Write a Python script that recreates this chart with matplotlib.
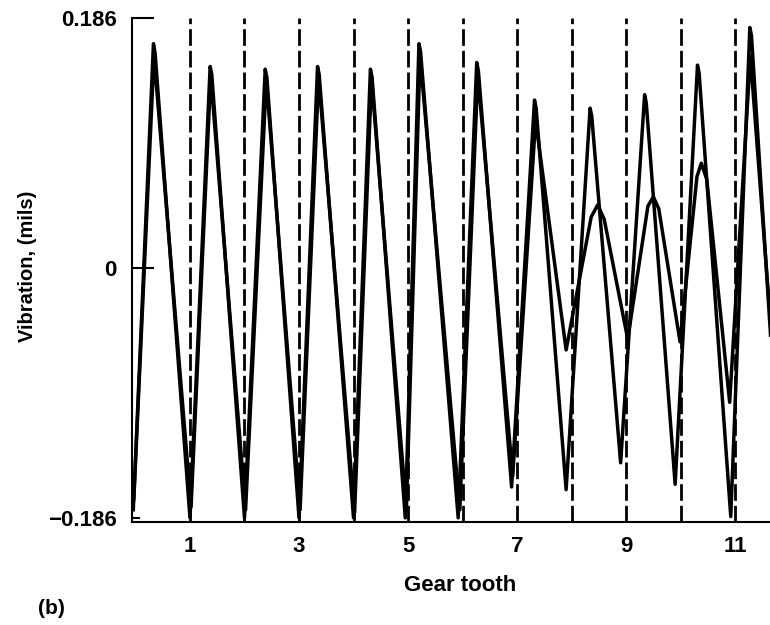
import matplotlib
matplotlib.use("Agg")
import matplotlib.pyplot as plt

# trace 1: regular mesh signal (tooth position, vibration in mils)
tooth_a = [-0.04, 0.33, 0.36, 1.0, 1.37, 1.40, 2.0, 2.38, 2.41, 3.0, 3.34, 3.37, 4.0, 4.31, 4.34,
           4.95, 5.20, 5.23, 5.92, 6.26, 6.29, 6.9, 7.32, 7.35, 7.9, 8.34, 8.37, 8.9, 9.34, 9.37,
           9.9, 10.31, 10.34, 10.92, 11.27, 11.30, 11.65]
vib_a = [-0.180, 0.167, 0.160, -0.186, 0.150, 0.144, -0.186, 0.148, 0.142, -0.186, 0.150, 0.144,
         -0.186, 0.148, 0.142, -0.186, 0.167, 0.161, -0.186, 0.153, 0.147, -0.163, 0.125, 0.119,
         -0.165, 0.119, 0.113, -0.145, 0.129, 0.123, -0.161, 0.151, 0.145, -0.185, 0.179, 0.173, -0.050]

# trace 2: follows trace 1, then drops in amplitude from tooth 8
tooth_b = [-0.03, 0.34, 1.02, 1.38, 2.02, 2.40, 3.02, 3.36, 4.02, 4.33, 4.97, 5.22,
           5.95, 6.28, 6.92, 7.34, 7.90, 8.36, 8.48, 8.60, 9.03, 9.40, 9.50, 9.60,
           9.99, 10.30, 10.38, 10.48, 10.90, 11.28, 11.62]
vib_b = [-0.172, 0.158, -0.178, 0.143, -0.180, 0.140, -0.180, 0.142, -0.182, 0.141, -0.180, 0.158,
         -0.180, 0.144, -0.155, 0.110, -0.061, 0.038, 0.047, 0.036, -0.053, 0.046, 0.053, 0.044,
         -0.055, 0.068, 0.078, 0.066, -0.100, 0.158, -0.025]

tooth_marks = [1, 2, 3, 4, 5, 6, 7, 8, 9, 10, 11]
x_ticks = [1, 3, 5, 7, 9, 11]
y_ticks = [-0.186, 0, 0.186]
y_labels = ['\u22120.186', '0', '0.186']

plt.rcParams['font.family'] = ['Liberation Sans', 'DejaVu Sans']
plt.rcParams['font.weight'] = 'bold'

fig = plt.figure(figsize=(7.7, 6.25), dpi=100)
ax = fig.add_axes([0.1714, 0.165, 0.8286, 0.806])

for t in tooth_marks:
    ax.axvline(t, color='black', lw=2.0, linestyle=(0, (6, 1.8)), zorder=1)

ax.plot(tooth_a, vib_a, color='black', lw=2.5, zorder=2)
ax.plot(tooth_b, vib_b, color='black', lw=2.5, zorder=2)

ax.set_xlim(-0.064, 11.64)
ax.set_ylim(-0.189, 0.186)

ax.spines['top'].set_visible(False)
ax.spines['right'].set_visible(False)
ax.spines['left'].set_linewidth(1.5)
ax.spines['bottom'].set_linewidth(1.5)

ax.set_xticks(x_ticks)
ax.set_yticks(y_ticks)
ax.set_yticklabels(y_labels)
ax.tick_params(axis='x', length=0, pad=10, labelsize=16)
ax.tick_params(axis='y', direction='in', length=16, width=1.5, pad=11, labelsize=16)
ax.yaxis.get_major_ticks()[0].tick1line.set_markersize(6)

ax.set_xlabel('Gear tooth', fontsize=16, fontweight='bold')
ax.xaxis.set_label_coords(0.514, -0.105)
ax.set_ylabel('Vibration, (mils)', fontsize=14.5, fontweight='bold')
ax.yaxis.set_label_coords(-0.149, 0.508)

fig.text(0.049, 0.026, '(b)', fontsize=15, fontweight='bold', va='center', ha='left')

fig.savefig('out.png', dpi=100)
